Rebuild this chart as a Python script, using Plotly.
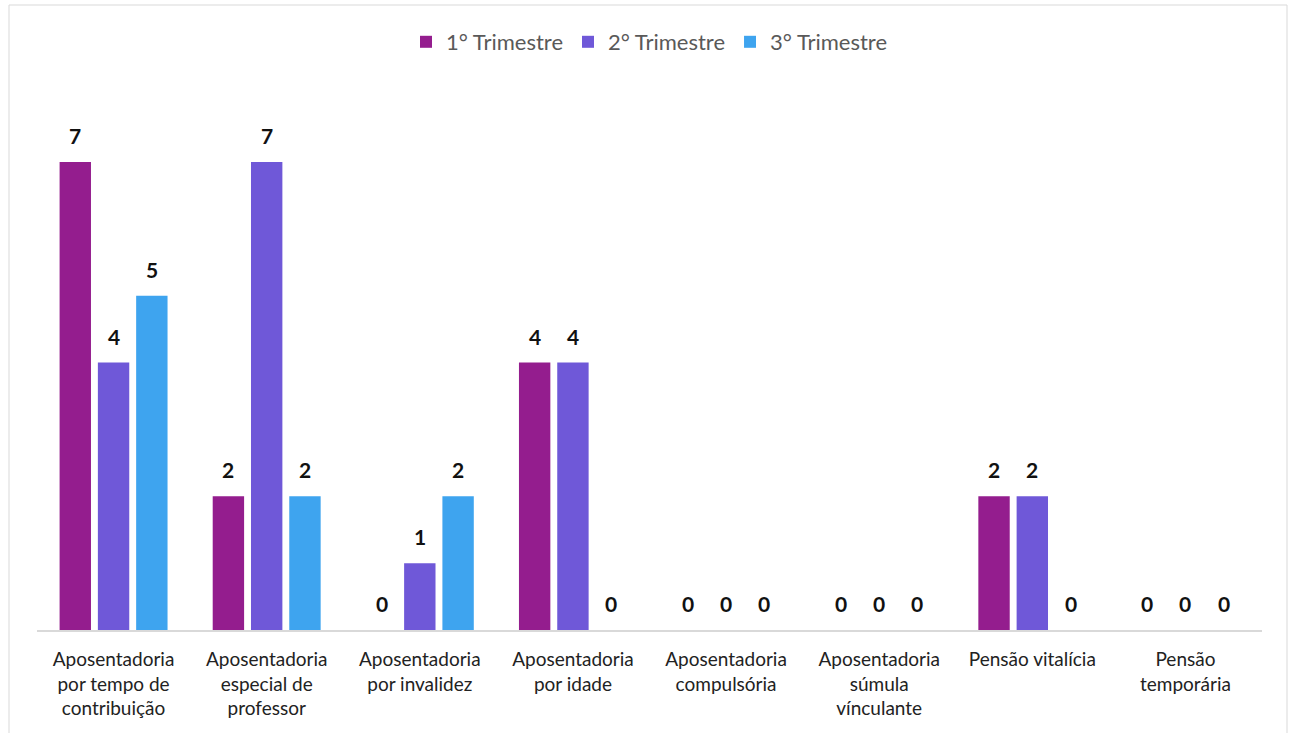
import plotly.graph_objects as go

categories = [
    "Aposentadoria<br>por tempo de<br>contribuição",
    "Aposentadoria<br>especial de<br>professor",
    "Aposentadoria<br>por invalidez",
    "Aposentadoria<br>por idade",
    "Aposentadoria<br>compulsória",
    "Aposentadoria<br>súmula<br>vínculante",
    "Pensão vitalícia",
    "Pensão<br>temporária",
]
tri1 = [7, 2, 0, 4, 0, 0, 2, 0]
tri2 = [4, 7, 1, 4, 0, 0, 2, 0]
tri3 = [5, 2, 2, 0, 0, 0, 0, 0]
series_names = ["1° Trimestre", "2° Trimestre", "3° Trimestre"]
colors = ["#941D8E", "#6F58D8", "#3EA4EF"]

W, H = 1295, 733
ml, mr, mt, mb = 37, 33, 95, 103
pw, ph = W - ml - mr, H - mt - mb
bargap = 0.25
slot_px = (pw / len(categories)) * (1 - bargap) / 3

fig = go.Figure()
for i, (name, vals, col) in enumerate(zip(series_names, [tri1, tri2, tri3], colors)):
    fig.add_trace(go.Bar(
        x=categories, y=vals, name=name,
        marker=dict(color=col, line=dict(width=0)),
    ))
    for c, v in zip(categories, vals):
        fig.add_annotation(x=c, y=v, text="<b>%d</b>" % v, showarrow=False,
                           xshift=(i - 1) * slot_px, yshift=12, yanchor="bottom",
                           font=dict(family="Lato", size=21, color="#111111"))

fig.add_shape(type="rect", xref="paper", yref="paper",
              x0=(9 - ml) / pw, x1=(1287 - ml) / pw,
              y0=-0.4, y1=(H - mb - 5) / ph,
              line=dict(color="#D9D9D9", width=1), fillcolor="rgba(0,0,0,0)", layer="below")

fig.update_layout(
    width=W, height=H,
    margin=dict(l=ml, r=mr, t=mt, b=mb),
    paper_bgcolor="white", plot_bgcolor="white",
    barmode="group", bargap=bargap, bargroupgap=0.18,
    font=dict(family="Lato", size=19, color="#262626"),
    legend=dict(orientation="h", x=0.5, xanchor="center", y=(H - mb - 42) / ph, yanchor="middle",
                font=dict(size=22, color="#595959"), itemwidth=30, traceorder="normal"),
    xaxis=dict(showline=True, linecolor="#D9D9D9", linewidth=2, ticks="",
               ticklabelstandoff=11,
               tickfont=dict(size=19, color="#222222"), showgrid=False),
    yaxis=dict(range=[0, 8], visible=False, showgrid=False, zeroline=False),
)

fig.write_html("out.html", config={"displayModeBar": False},
               post_script="document.body.style.margin='0';")
